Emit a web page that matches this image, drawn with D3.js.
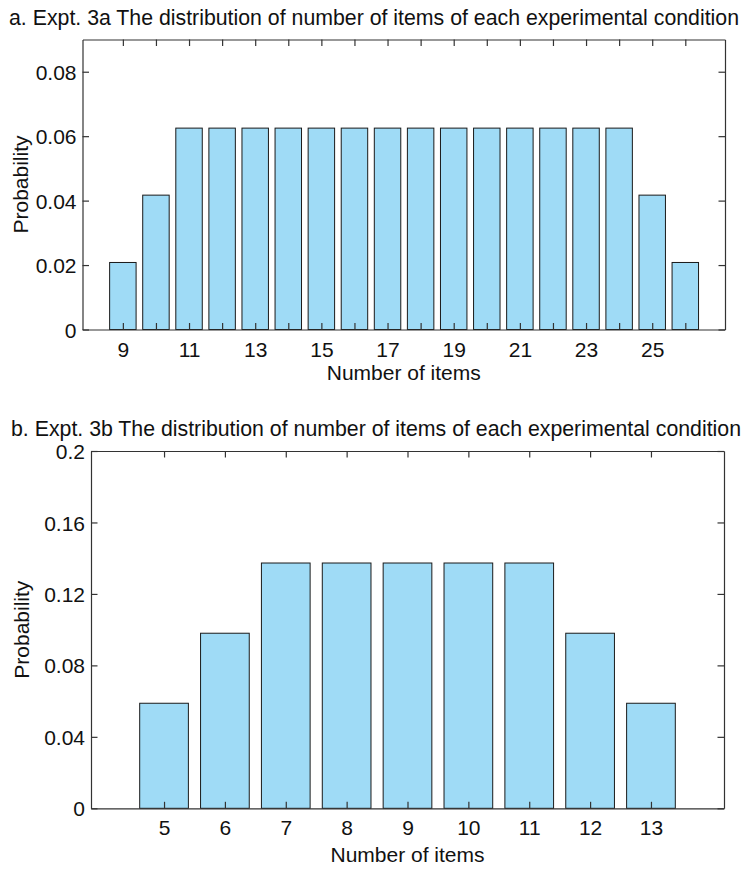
<!DOCTYPE html>
<html><head><meta charset="utf-8">
<script src="https://cdn.jsdelivr.net/npm/d3@7"></script>
<style>
body{margin:0;background:#fff;}
text{font-family:"Liberation Sans",Arial,Helvetica,sans-serif;fill:#111;}
</style></head>
<body>
<svg id="chart" width="745" height="869"></svg>
<script>
// ---- Data ----
const titleA = "a. Expt. 3a The distribution of number of items of each experimental condition";
const titleB = "b. Expt. 3b The distribution of number of items of each experimental condition";
const itemsA = [9,10,11,12,13,14,15,16,17,18,19,20,21,22,23,24,25,26];
const probA  = [0.0208,0.0417,0.0625,0.0625,0.0625,0.0625,0.0625,0.0625,0.0625,0.0625,0.0625,0.0625,0.0625,0.0625,0.0625,0.0625,0.0417,0.0208];
const xTickLabelsA = [9,11,13,15,17,19,21,23,25];
const yTicksA = [0,0.02,0.04,0.06,0.08];
const yTickLabelsA = ["0","0.02","0.04","0.06","0.08"];

const itemsB = [5,6,7,8,9,10,11,12,13];
const probB  = [0.0588,0.0980,0.1373,0.1373,0.1373,0.1373,0.1373,0.0980,0.0588];
const yTicksB = [0,0.04,0.08,0.12,0.16,0.2];
const yTickLabelsB = ["0","0.04","0.08","0.12","0.16","0.2"];
const xLabel = "Number of items";
const yLabel = "Probability";

const svg = d3.select("#chart");
const FS = 21;
const axisColor = "#333";
const barFill = "#9fdbf6";
const barStroke = "#1a1a1a";
const tickLen = 6.5;

function panel(cfg){
  const g = svg.append("g");
  const x = d3.scaleLinear().domain(cfg.xDomain).range([cfg.left, cfg.right]);
  const y = d3.scaleLinear().domain(cfg.yDomain).range([cfg.bottom, cfg.top]);
  const bw = x(cfg.xDomain[0]+0.8) - x(cfg.xDomain[0]);

  // bars
  g.selectAll("rect.bar").data(cfg.items).enter().append("rect")
    .attr("x", (d,i)=>x(d)-bw/2)
    .attr("y", (d,i)=>y(cfg.values[i]))
    .attr("width", bw)
    .attr("height", (d,i)=>y(0)-y(cfg.values[i]))
    .attr("fill", barFill).attr("stroke", barStroke).attr("stroke-width", 1);

  // axes via d3
  const xb = d3.axisBottom(x).tickValues(cfg.items).tickSizeInner(-tickLen).tickSizeOuter(0)
     .tickFormat(d => cfg.xLabels.includes(d) ? String(d) : "");
  const xt = d3.axisTop(x).tickValues(cfg.items).tickSizeInner(-tickLen).tickSizeOuter(0).tickFormat("");
  const yl = d3.axisLeft(y).tickValues(cfg.yTicks).tickSizeInner(-tickLen).tickSizeOuter(0)
     .tickFormat((d,i)=>cfg.yLabels[i]);
  const yr = d3.axisRight(y).tickValues(cfg.yTicks).tickSizeInner(-tickLen).tickSizeOuter(0).tickFormat("");

  const gxb = g.append("g").attr("transform",`translate(0,${cfg.bottom})`).call(xb);
  const gxt = g.append("g").attr("transform",`translate(0,${cfg.top})`).call(xt);
  const gyl = g.append("g").attr("transform",`translate(${cfg.left},0)`).call(yl);
  const gyr = g.append("g").attr("transform",`translate(${cfg.right},0)`).call(yr);
  [gxb,gxt,gyl,gyr].forEach(a=>{
    a.select(".domain").attr("stroke",axisColor).attr("stroke-width",1.2);
    a.selectAll(".tick line").attr("stroke",axisColor).attr("stroke-width",1.2);
    a.selectAll("text").attr("font-size",FS).attr("font-family","Liberation Sans, Arial, sans-serif").attr("fill","#111");
  });
  gxb.selectAll(".tick text").attr("dy",null).attr("y",null).attr("dominant-baseline",null)
     .attr("y", cfg.xTickDy);
  gyl.selectAll(".tick text").attr("x",-6).attr("dy","0.36em");

  // labels
  g.append("text").attr("x",(cfg.left+cfg.right)/2).attr("y",cfg.bottom+cfg.xLabelDy)
    .attr("text-anchor","middle").attr("font-size",FS).text(xLabel);
  g.append("text").attr("transform",`translate(${cfg.yLabelX},${(cfg.top+cfg.bottom)/2}) rotate(-90)`)
    .attr("text-anchor","middle").attr("font-size",FS).text(yLabel);
  g.append("text").attr("x",cfg.titleX).attr("y",cfg.titleY).attr("font-size",cfg.titleFS).text(cfg.title);
}

panel({items:itemsA, values:probA, xLabels:xTickLabelsA, yTicks:yTicksA, yLabels:yTickLabelsA,
  xDomain:[7.78,27.2], yDomain:[0,0.09], left:82.5, right:725, top:39.5, bottom:329.5,
  xTickDy:27, xLabelDy:50, yLabelX:28, titleX:9, titleY:25, titleFS:21.3, title:titleA});
panel({items:itemsB, values:probB, xLabels:itemsB, yTicks:yTicksB, yLabels:yTickLabelsB,
  xDomain:[3.8,14.2], yDomain:[0,0.2], left:91, right:724, top:451, bottom:808.3,
  xTickDy:27, xLabelDy:54, yLabelX:29, titleX:11, titleY:436, titleFS:21.3, title:titleB});
</script>
</body></html>
